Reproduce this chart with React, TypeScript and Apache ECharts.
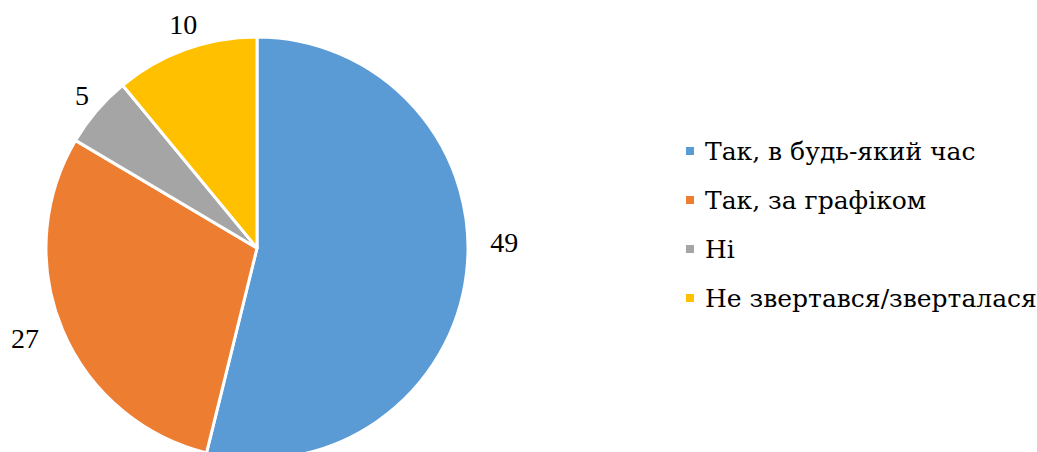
import React, { useEffect, useRef } from "react";
import * as echarts from "echarts";

const categories = ["Так, в будь-який час", "Так, за графіком", "Ні", "Не звертався/зверталася"];
const values = [49, 27, 5, 10];
const colors = ["#5B9BD5", "#ED7D31", "#A5A5A5", "#FFC000"];

// small style nudges for the value labels (Excel-like placement)
const labelNudge = [
  [11, -34],
  [-12, 0],
  [7, -1],
  [10, -4],
];

const LEGEND_FONT = "'DejaVu Serif', serif";
const LABEL_FONT = "'Liberation Serif', 'DejaVu Serif', serif";

export default function App() {
  const ref = useRef<HTMLDivElement>(null);
  useEffect(() => {
    document.body.style.margin = "0";
    const chart = echarts.init(ref.current!, null, { renderer: "svg" });
    chart.setOption({
      animation: false,
      color: colors,
      legend: {
        orient: "vertical",
        left: 684,
        top: 138,
        padding: 0,
        itemWidth: 10,
        itemHeight: 10,
        itemGap: 23,
        icon: "rect",
        data: categories,
        textStyle: {
          fontFamily: LEGEND_FONT,
          fontSize: 25,
          lineHeight: 26,
          color: "#000",
          padding: [0, 0, 0, 5],
        },
      },
      series: [
        {
          type: "pie",
          center: [257, 248],
          radius: 211,
          startAngle: 90,
          clockwise: true,
          itemStyle: { borderColor: "#fff", borderWidth: 3 },
          label: {
            show: true,
            position: "outside",
            formatter: "{c}",
            fontFamily: LABEL_FONT,
            fontSize: 28,
            color: "#000",
            overflow: "none",
          },
          labelLine: { show: false, length: 22, length2: 0 },
          labelLayout: (p: any) => {
            const n = labelNudge[p.dataIndex] || [0, 0];
            const half = p.labelRect.width / 2;
            return {
              dx: (p.align === "left" ? -half : p.align === "right" ? half : 0) + n[0],
              dy: n[1],
            };
          },
          data: categories.map((c, i) => ({ name: c, value: values[i] })),
        },
      ],
    });
    return () => chart.dispose();
  }, []);
  return <div ref={ref} style={{ width: 1037, height: 452 }} />;
}
